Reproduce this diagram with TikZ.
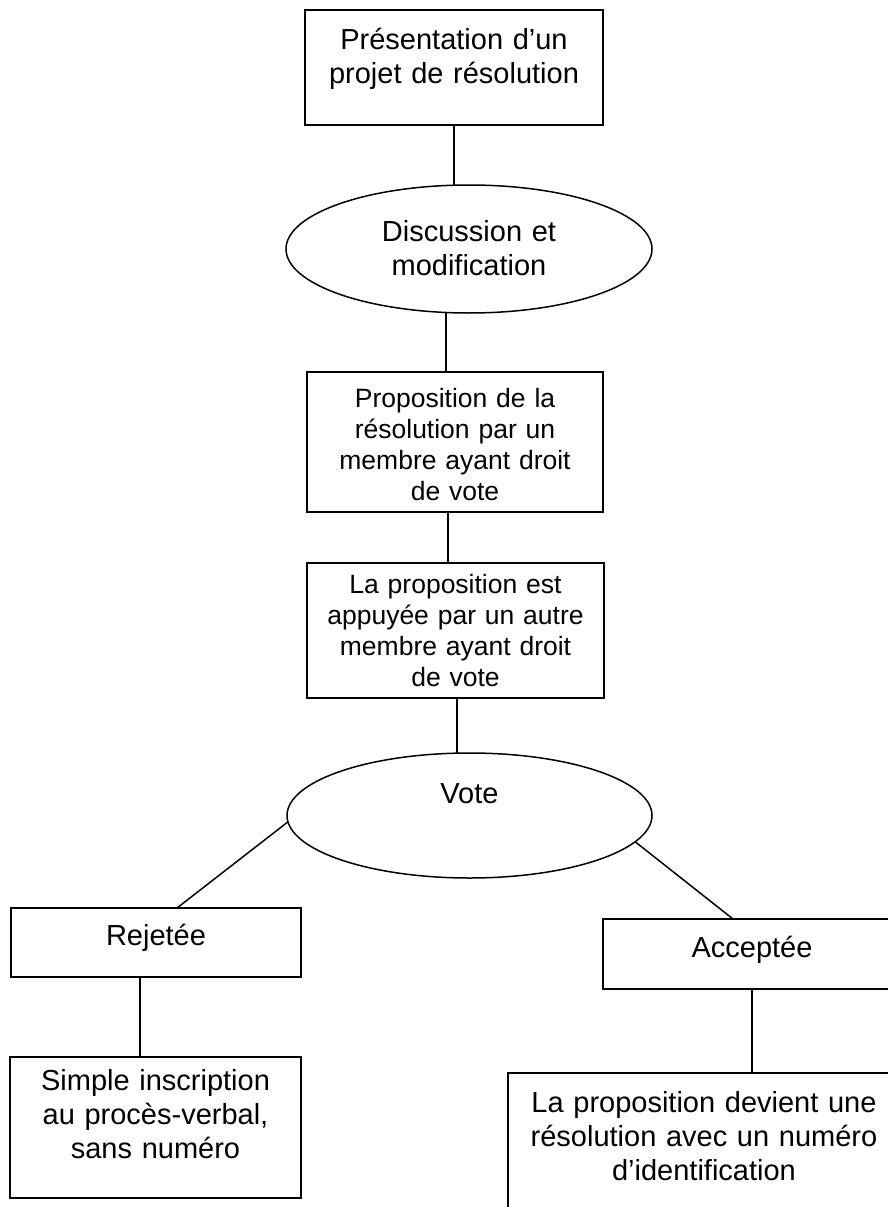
\documentclass[tikz,border=0pt]{standalone}
\usepackage{fontspec}
\setmainfont{Liberation Sans}
\usetikzlibrary{shapes.geometric}
\begin{document}
\begin{tikzpicture}[x=1pt,y=-1pt,
  box/.style={draw, rectangle, inner sep=0pt, outer sep=0pt, align=center, anchor=north west, line width=1.5pt},
  oval/.style={draw, ellipse, inner sep=0pt, outer sep=0pt, align=center, line width=1.5pt},
  big/.style={font=\fontsize{29}{34}\selectfont},
  small/.style={font=\fontsize{26.5}{31}\selectfont},
  link/.style={line width=1.5pt}]
\useasboundingbox (0,0) rectangle (888,1207);
\clip (0,0) rectangle (888,1207);

\node[box,big,text width=298pt,text height=40pt,text depth=75pt] (b1) at (305,10)
  {Présentation d’un\\projet de résolution};
\node[oval,big,minimum width=366pt,minimum height=128pt,text width=250pt,text height=20pt,text depth=36pt] (ell1) at (469,249)
  {Discussion et\\modification};
\node[box,small,text width=296pt,text height=35pt,text depth=105pt] (b2) at (307,372)
  {Proposition de la\\résolution par un\\membre ayant droit\\de vote};
\node[box,small,text width=297pt,text height=30pt,text depth=105pt] (b3) at (307,563)
  {La proposition est\\appuyée par un autre\\membre ayant droit\\de vote};
\node[oval,big,minimum width=365pt,minimum height=125pt,text height=10pt,text depth=35pt] (vote) at (469.5,815.5)
  {Vote};
\node[box,big,text width=290pt,text height=37pt,text depth=32pt] (rej) at (11,908)
  {Rejetée};
\node[box,big,text width=298pt,text height=38pt,text depth=32pt] (acc) at (603,919)
  {Acceptée};
\node[box,big,text width=291pt,text height=33pt,text depth=108pt] (simple) at (10,1057)
  {Simple inscription\\au procès-verbal,\\sans numéro};
\node[box,big,text width=392pt,text height=39pt,text depth=121pt] (final) at (508,1073)
  {La proposition devient une\\résolution avec un numéro\\d’identification};

\draw[link] (b1.south) -- (b1.south |- ell1.north);
\draw[link] ([xshift=-23pt]ell1.south) -- ([xshift=-23pt]ell1.south |- b2.north);
\draw[link] ([xshift=-7pt]b2.south) -- ([xshift=-7pt]b2.south |- b3.north);
\draw[link] ([xshift=1.5pt]b3.south) -- ([xshift=1.5pt]b3.south |- vote.north);
\draw[link] (vote.182) -- ([xshift=166pt]rej.north west);
\draw[link] (vote.-9.75) -- ([xshift=130pt]acc.north west);
\draw[link] ([xshift=129pt]rej.south west) -- ([xshift=129pt]rej.south west |- simple.north);
\draw[link] (acc.south) -- (acc.south |- final.north);
\end{tikzpicture}
\end{document}
